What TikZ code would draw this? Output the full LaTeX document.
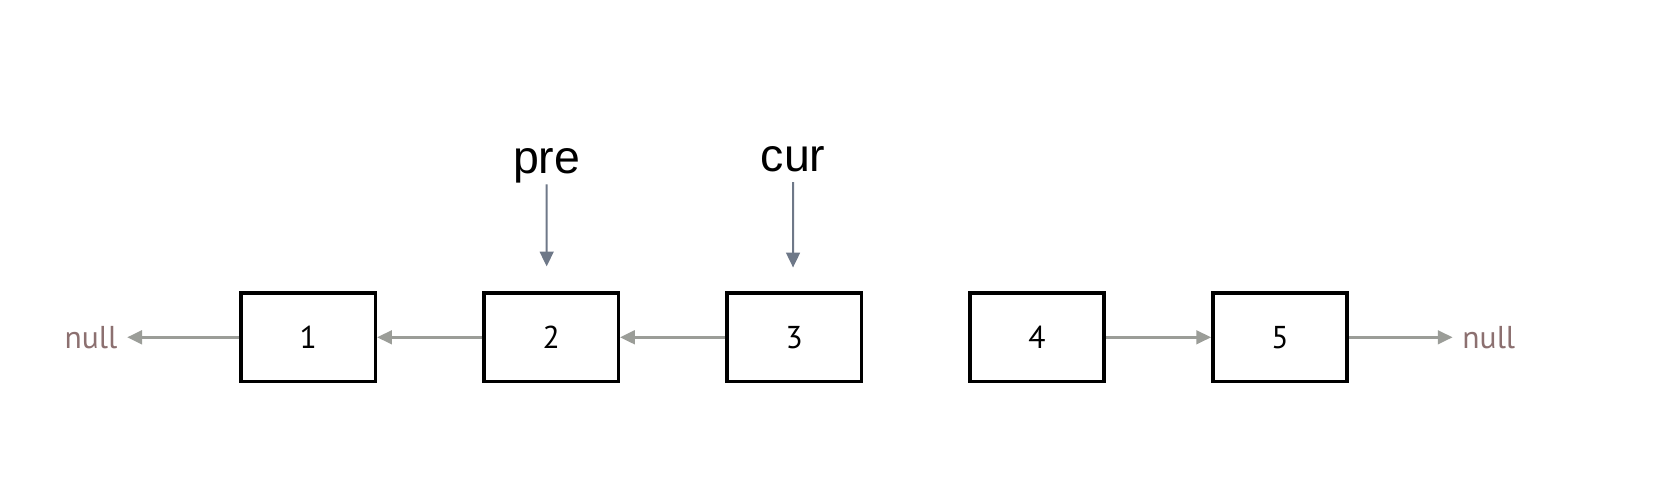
\documentclass[tikz,border=0pt]{standalone}
\usepackage{fontspec}
\setmainfont{Liberation Sans}
\newfontfamily\numfont{PT Sans}
\usetikzlibrary{arrows.meta}

\definecolor{nullcol}{RGB}{140,112,112}
\definecolor{linkcol}{RGB}{155,157,152}
\definecolor{ptrcol}{RGB}{110,120,136}

\tikzset{
	listbox/.style={draw,line width=1.9pt,minimum height=1.68cm,minimum width=2.54cm,font=\numfont\fontsize{17}{20}\selectfont},
	nulltxt/.style={text=nullcol,inner sep=0.18cm,font=\numfont\fontsize{17}{20}\selectfont},
	ptrtxt/.style={inner sep=0pt,anchor=base,text depth=0.2cm,font=\fontsize{25}{30}\selectfont},
	link/.style={draw=linkcol,fill=linkcol,line width=1.4pt,-{Triangle[length=2.8mm,width=2.6mm]}},
	ptr/.style={draw=ptrcol,fill=ptrcol,line width=1.1pt,-{Triangle[length=2.8mm,width=2.6mm]}}
}

\begin{document}
\begin{tikzpicture}
	\useasboundingbox (0,0) rectangle (31.36,9.53);

	\foreach \i [count=\n] in {1,2,3,4,5}
		\node[listbox,xshift=1.235cm+\n*4.595cm,yshift=3.15cm](A\n){\i};

	\node[nulltxt,xshift=1.72cm,yshift=3.15cm](N0){null};
	\node[nulltxt,xshift=28.16cm,yshift=3.15cm](N6){null};

	\node[ptrtxt,xshift=10.34cm,yshift=6.25cm](pre){pre};
	\node[ptrtxt,xshift=15.0cm,yshift=6.29cm](cur){cur};

	% tips of the pointer arrows, just above boxes 2 and 3
	\coordinate (preTip) at (10.34,4.49);
	\coordinate (curTip) at (15.0,4.47);

	\path
		(A1.west) edge[link] (N0.east)
		(A2.west) edge[link] (A1.east)
		(A3.west) edge[link] (A2.east)
		(A4.east) edge[link] (A5.west)
		(A5.east) edge[link] (N6.west);

	\path
		(pre.south) edge[ptr] (preTip)
		(cur.south) edge[ptr] (curTip);
\end{tikzpicture}
\end{document}
